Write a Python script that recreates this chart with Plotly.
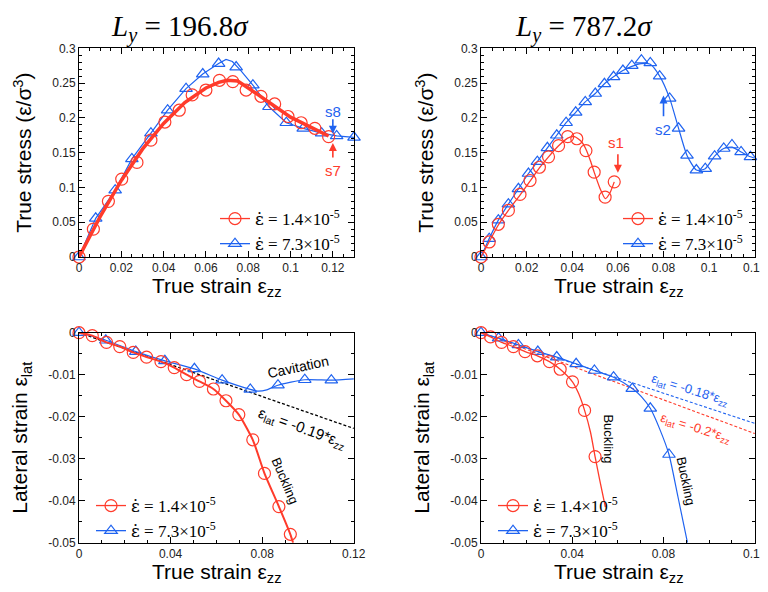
import plotly.graph_objects as go

# ---------------- data ----------------
# Top-left: stress-strain, Ly = 196.8 sigma
tl_red_mx = [0, 0.0068, 0.0139, 0.0202, 0.0274, 0.034, 0.0406, 0.0474, 0.0535, 0.060, 0.0664, 0.0727, 0.079, 0.086, 0.0925, 0.0988, 0.105, 0.1115, 0.118]
tl_red_my = [0, 0.040, 0.080, 0.112, 0.136, 0.168, 0.194, 0.211, 0.233, 0.240, 0.254, 0.252, 0.240, 0.231, 0.220, 0.202, 0.193, 0.185, 0.173]
tl_red_lx = [0, 0.005, 0.01, 0.02, 0.03, 0.04, 0.05, 0.06, 0.066, 0.07, 0.075, 0.08, 0.09, 0.10, 0.11, 0.118]
tl_red_ly = [0, 0.030, 0.058, 0.110, 0.155, 0.192, 0.222, 0.243, 0.251, 0.254, 0.253, 0.243, 0.222, 0.201, 0.186, 0.174]
tl_blue_mx = [0, 0.0079, 0.0171, 0.025, 0.034, 0.0419, 0.0506, 0.0585, 0.066, 0.0743, 0.0822, 0.0898, 0.098, 0.106, 0.1147, 0.1218, 0.13]
tl_blue_my = [0, 0.0556, 0.096, 0.141, 0.178, 0.211, 0.242, 0.263, 0.278, 0.273, 0.247, 0.216, 0.193, 0.185, 0.178, 0.174, 0.172]
tl_blue_lx = [0, 0.0079, 0.0171, 0.025, 0.034, 0.0419, 0.0506, 0.0585, 0.066, 0.0695, 0.0725, 0.0765, 0.0822, 0.0898, 0.098, 0.106, 0.1147, 0.1218, 0.13]
tl_blue_ly = [0, 0.0556, 0.096, 0.141, 0.178, 0.211, 0.242, 0.263, 0.278, 0.284, 0.281, 0.268, 0.247, 0.216, 0.193, 0.185, 0.178, 0.174, 0.172]

# Top-right: stress-strain, Ly = 787.2 sigma
tr_red_mx = [0, 0.0036, 0.0076, 0.012, 0.0171, 0.0215, 0.0256, 0.0296, 0.034, 0.038, 0.042, 0.046, 0.0496, 0.0544, 0.0584]
tr_red_my = [0, 0.0216, 0.047, 0.067, 0.090, 0.110, 0.129, 0.144, 0.160, 0.173, 0.170, 0.153, 0.122, 0.086, 0.108]
tr_red_lx = [0, 0.0036, 0.0076, 0.012, 0.0171, 0.0215, 0.0256, 0.0296, 0.034, 0.038, 0.041, 0.044, 0.046, 0.048, 0.0496, 0.052, 0.0545, 0.0565, 0.0584]
tr_red_ly = [0, 0.022, 0.046, 0.067, 0.089, 0.109, 0.128, 0.144, 0.160, 0.171, 0.173, 0.166, 0.155, 0.138, 0.122, 0.100, 0.084, 0.092, 0.108]
tr_blue_mx = [0, 0.0036, 0.0076, 0.012, 0.0164, 0.0208, 0.0247, 0.0291, 0.0332, 0.0373, 0.0415, 0.0457, 0.0501, 0.0541, 0.0581, 0.0622, 0.0661, 0.0703, 0.0742, 0.0783, 0.0827, 0.0866, 0.0903, 0.0944, 0.0983, 0.1024, 0.1064, 0.110, 0.114, 0.1181]
tr_blue_my = [0, 0.0264, 0.053, 0.076, 0.098, 0.120, 0.137, 0.157, 0.175, 0.193, 0.208, 0.223, 0.235, 0.249, 0.259, 0.268, 0.275, 0.283, 0.279, 0.260, 0.228, 0.185, 0.146, 0.125, 0.127, 0.145, 0.156, 0.161, 0.151, 0.144]
tr_blue_lx = tr_blue_mx + [0.12]
tr_blue_ly = [0, 0.0264, 0.053, 0.076, 0.098, 0.120, 0.137, 0.157, 0.175, 0.193, 0.208, 0.223, 0.235, 0.249, 0.259, 0.268, 0.274, 0.278, 0.277, 0.260, 0.228, 0.185, 0.146, 0.125, 0.127, 0.145, 0.156, 0.158, 0.151, 0.144, 0.142]

# Bottom-left: lateral strain, Ly = 196.8 sigma
bl_red_mx = [0, 0.0058, 0.012, 0.0178, 0.0237, 0.0295, 0.0358, 0.0416, 0.047, 0.0526, 0.0587, 0.0642, 0.0698, 0.0759, 0.081, 0.0873, 0.0923]
bl_red_my = [0, -0.0007, -0.0023, -0.0033, -0.0047, -0.0058, -0.0069, -0.0083, -0.0100, -0.0116, -0.0134, -0.0162, -0.0195, -0.0255, -0.0335, -0.0414, -0.0480]
bl_red_lx = bl_red_mx + [0.0935]
bl_red_ly = bl_red_my + [-0.0500]
bl_blue_mx = [0, 0.0117, 0.0248, 0.0375, 0.0504, 0.0625, 0.0748, 0.0869, 0.0986, 0.1102]
bl_blue_my = [0, -0.0018, -0.0045, -0.0067, -0.0086, -0.0113, -0.0135, -0.0125, -0.0112, -0.0113]
bl_blue_lx = [0, 0.0117, 0.0248, 0.0375, 0.0504, 0.0625, 0.0748, 0.078, 0.082, 0.0869, 0.0986, 0.1102, 0.12]
bl_blue_ly = [0, -0.0018, -0.0045, -0.0067, -0.0086, -0.0113, -0.0135, -0.0139, -0.0136, -0.0125, -0.0112, -0.0113, -0.0110]
bl_fit_x = [0, 0.12]
bl_fit_y = [0, -0.0228]

# Bottom-right: lateral strain, Ly = 787.2 sigma
br_red_mx = [0, 0.0042, 0.009, 0.0142, 0.0193, 0.0247, 0.030, 0.0347, 0.0401, 0.0454, 0.050]
br_red_my = [0, -0.0010, -0.0023, -0.0033, -0.0045, -0.0055, -0.0069, -0.0087, -0.0117, -0.0185, -0.0295]
br_red_lx = [0, 0.0042, 0.009, 0.0142, 0.0193, 0.0247, 0.030, 0.0347, 0.0401, 0.0428, 0.0454, 0.048, 0.050, 0.052, 0.0545]
br_red_ly = [0, -0.0010, -0.0023, -0.0033, -0.0045, -0.0055, -0.0069, -0.0087, -0.0117, -0.0145, -0.0185, -0.0237, -0.0295, -0.0350, -0.0415]
br_blue_mx = [0, 0.0077, 0.0164, 0.0249, 0.0332, 0.0417, 0.0497, 0.0581, 0.0663, 0.0742, 0.0824]
br_blue_my = [0, -0.0013, -0.0029, -0.0045, -0.0058, -0.0074, -0.0090, -0.0106, -0.0133, -0.0180, -0.0290]
br_blue_lx = [0, 0.0077, 0.0164, 0.0249, 0.0332, 0.0417, 0.0497, 0.0581, 0.0663, 0.0703, 0.0742, 0.0783, 0.0824, 0.0863, 0.0905]
br_blue_ly = [0, -0.0013, -0.0029, -0.0045, -0.0058, -0.0074, -0.0090, -0.0106, -0.0133, -0.0152, -0.0180, -0.0229, -0.0290, -0.0390, -0.0500]
br_fit_red_x = [0, 0.12]
br_fit_red_y = [0, -0.0240]
br_fit_blue_x = [0, 0.12]
br_fit_blue_y = [0, -0.0216]

top_xticks_l = [0, 0.02, 0.04, 0.06, 0.08, 0.1, 0.12]
top_xticktext = ["0", "0.02", "0.04", "0.06", "0.08", "0.1", "0.12"]
bot_xticks = [0, 0.04, 0.08, 0.12]
bot_xticktext = ["0", "0.04", "0.08", "0.12"]
bot_yticks = [0, -0.01, -0.02, -0.03, -0.04, -0.05]
bot_yticktext = ["0", "-0.01", "-0.02", "-0.03", "-0.04", "-0.05"]

EDOT = "<span style=\"font-family:'DejaVu Serif'\">\u03b5\u0307</span>"
legend_names = [EDOT + " = 1.4\u00d710<sup>-5</sup>", EDOT + " = 7.3\u00d710<sup>-5</sup>"]
xtitle = "True strain \u03b5<sub>zz</sub>"
stress_title = "True stress (\u03b5/\u03c3<sup>3</sup>)"
lat_title = "Lateral strain \u03b5<sub>lat</sub>"

# ---------------- styles / layout ----------------
RED = "#ff3b2b"
BLUE = "#1f63f0"
SANS = "Liberation Sans, Arial, sans-serif"
SERIF = "Liberation Serif, Times New Roman, serif"
MSIZE = 11

# The page body has an 8px margin: the figure starts 8px in and runs to the window edge.
OFF = 8
FW, FH = 768 - OFF, 592 - OFF


def px(x):  # screen x -> paper x
    return (x - OFF) / FW


def py(y):  # screen y -> paper y
    return 1 - (y - OFF) / FH


fig = go.Figure()

panels = [
    ("", "legend", (tl_red_lx, tl_red_ly), (tl_red_mx, tl_red_my), (tl_blue_lx, tl_blue_ly), (tl_blue_mx, tl_blue_my), 3.5, False),
    ("2", "legend2", (tr_red_lx, tr_red_ly), (tr_red_mx, tr_red_my), (tr_blue_lx, tr_blue_ly), (tr_blue_mx, tr_blue_my), 1.3, True),
    ("3", "legend3", (bl_red_lx, bl_red_ly), (bl_red_mx, bl_red_my), (bl_blue_lx, bl_blue_ly), (bl_blue_mx, bl_blue_my), 2.0, True),
    ("4", "legend4", (br_red_lx, br_red_ly), (br_red_mx, br_red_my), (br_blue_lx, br_blue_ly), (br_blue_mx, br_blue_my), 1.3, True),
]

for suf, leg, rl, rm, bln, bm, rw, spl in panels:
    xa, ya = "x" + suf, "y" + suf
    shape = "spline" if spl else "linear"
    if suf == "3":
        fig.add_trace(go.Scatter(x=bl_fit_x, y=bl_fit_y, mode="lines", xaxis=xa, yaxis=ya,
                                 line=dict(color="black", width=1.3, dash="3px,2px"), showlegend=False))
    if suf == "4":
        fig.add_trace(go.Scatter(x=br_fit_blue_x, y=br_fit_blue_y, mode="lines", xaxis=xa, yaxis=ya,
                                 line=dict(color=BLUE, width=1.1, dash="3px,2px"), showlegend=False))
        fig.add_trace(go.Scatter(x=br_fit_red_x, y=br_fit_red_y, mode="lines", xaxis=xa, yaxis=ya,
                                 line=dict(color=RED, width=1.1, dash="3px,2px"), showlegend=False))
    fig.add_trace(go.Scatter(x=bln[0], y=bln[1], mode="lines", xaxis=xa, yaxis=ya,
                             line=dict(color=BLUE, width=1.2, shape=shape, smoothing=0.6), showlegend=False))
    fig.add_trace(go.Scatter(x=bm[0], y=bm[1], mode="markers", xaxis=xa, yaxis=ya, cliponaxis=False,
                             marker=dict(symbol="triangle-up-open", size=MSIZE, color=BLUE, line=dict(width=1.2)),
                             showlegend=False))
    fig.add_trace(go.Scatter(x=rl[0], y=rl[1], mode="lines", xaxis=xa, yaxis=ya,
                             line=dict(color=RED, width=rw, shape=shape, smoothing=0.6), showlegend=False))
    fig.add_trace(go.Scatter(x=rm[0], y=rm[1], mode="markers", xaxis=xa, yaxis=ya, cliponaxis=False,
                             marker=dict(symbol="circle-open", size=MSIZE + 1, color=RED, line=dict(width=1.2)),
                             showlegend=False))
    fig.add_trace(go.Scatter(x=[None], y=[None], mode="lines+markers", xaxis=xa, yaxis=ya, name=legend_names[0],
                             legend=leg, line=dict(color=RED, width=1.3),
                             marker=dict(symbol="circle-open", size=MSIZE + 1, color=RED, line=dict(width=1.2))))
    fig.add_trace(go.Scatter(x=[None], y=[None], mode="lines+markers", xaxis=xa, yaxis=ya, name=legend_names[1],
                             legend=leg, line=dict(color=BLUE, width=1.3),
                             marker=dict(symbol="triangle-up-open", size=MSIZE, color=BLUE, line=dict(width=1.2))))

X_LEFT = [px(79), px(354)]
X_RIGHT = [px(481), px(755)]
Y_TOP = [py(257), py(48.3)]
Y_BOT = [py(542.7), py(332.7)]

tickfont = dict(family=SANS, size=12, color="#222")
titlefont = dict(family=SANS, size=21, color="black")


def xax(domain, anchor, rng, tickvals, ticktext, minor_dtick):
    return dict(domain=domain, anchor=anchor, range=rng, tickvals=tickvals, ticktext=ticktext, automargin=False,
                ticklabeloverflow="allow",
                showgrid=False, zeroline=False, showline=True, linecolor="black", linewidth=1,
                mirror="ticks", ticks="inside", ticklen=6, tickcolor="black",
                minor=dict(ticks="inside", ticklen=3, dtick=minor_dtick, tick0=0, tickcolor="black"),
                tickfont=tickfont)


def yax(domain, anchor, rng, title, **kw):
    d = dict(domain=domain, anchor=anchor, range=rng, automargin=False,
             showgrid=False, zeroline=False, showline=True, linecolor="black", linewidth=1,
             mirror="ticks", ticks="inside", ticklen=6, tickcolor="black",
             tickfont=tickfont,
             title=dict(text=title, font=titlefont, standoff=14))
    d.update(kw)
    return d


XR_END = 0.1201

fig.update_layout(
    width=FW, height=FH,
    margin=dict(l=0, r=0, t=0, b=0, autoexpand=False),
    paper_bgcolor="white", plot_bgcolor="white",
    xaxis=xax(X_LEFT, "y", [0, 0.13], top_xticks_l, top_xticktext, 0.005),
    xaxis2=xax(X_RIGHT, "y2", [0, XR_END], top_xticks_l, top_xticktext, 0.005),
    xaxis3=xax(X_LEFT, "y3", [0, XR_END], bot_xticks, bot_xticktext, 0.01),
    xaxis4=xax(X_RIGHT, "y4", [0, XR_END], bot_xticks, bot_xticktext, 0.01),
    yaxis=yax(Y_TOP, "x", [0, 0.3], stress_title, dtick=0.05, tick0=0,
              minor=dict(ticks="inside", ticklen=3, dtick=0.01, tickcolor="black")),
    yaxis2=yax(Y_TOP, "x2", [0, 0.3], stress_title, dtick=0.05, tick0=0,
               minor=dict(ticks="inside", ticklen=3, dtick=0.01, tickcolor="black")),
    yaxis3=yax(Y_BOT, "x3", [-0.05, 0], lat_title, tickvals=bot_yticks, ticktext=bot_yticktext,
               minor=dict(ticks="inside", ticklen=3, dtick=0.005, tickcolor="black")),
    yaxis4=yax(Y_BOT, "x4", [-0.05, 0], lat_title, tickvals=bot_yticks, ticktext=bot_yticktext,
               minor=dict(ticks="inside", ticklen=3, dtick=0.005, tickcolor="black")),
)

legfont = dict(family=SERIF, size=17, color="black")
common_leg = dict(font=legfont, bgcolor="rgba(0,0,0,0)", tracegroupgap=0, itemwidth=30)
fig.update_layout(
    legend=dict(x=px(345), y=py(262), xanchor="right", yanchor="bottom", **common_leg),
    legend2=dict(x=px(748), y=py(262), xanchor="right", yanchor="bottom", **common_leg),
    legend3=dict(x=px(91), y=py(549), xanchor="left", yanchor="bottom", **common_leg),
    legend4=dict(x=px(493), y=py(549), xanchor="left", yanchor="bottom", **common_leg),
)

ann = []
for cx, txt in [(180, "<i>L</i><sub><i>y</i></sub> = 196.8<i>\u03c3</i>"), (584, "<i>L</i><sub><i>y</i></sub> = 787.2<i>\u03c3</i>")]:
    ann.append(dict(text=txt, x=px(cx), y=1.0, xref="paper", yref="paper",
                    xanchor="center", yanchor="top",
                    showarrow=False, font=dict(family=SERIF, size=29, color="black")))

# x-axis titles placed just below the tick labels
for dom, top in [(X_LEFT, 272), (X_RIGHT, 272), (X_LEFT, 558), (X_RIGHT, 558)]:
    ann.append(dict(text=xtitle, x=(dom[0] + dom[1]) / 2, y=py(top), xref="paper", yref="paper",
                    xanchor="center", yanchor="top", showarrow=False, font=titlefont))


def arrow(xr, yr, x, y_tail, y_head, color):
    return dict(x=x, y=y_head, ax=x, ay=y_tail, xref=xr, yref=yr, axref=xr, ayref=yr, text="",
                showarrow=True, arrowhead=2, arrowsize=1, arrowwidth=1.6, arrowcolor=color)


def label(xr, yr, x, y, text, color, size=15, angle=0):
    return dict(x=x, y=y, xref=xr, yref=yr, text=text, showarrow=False, textangle=angle,
                font=dict(family=SANS, size=size, color=color))


ann += [
    arrow("x", "y", 0.12, 0.200, 0.177, BLUE), label("x", "y", 0.12, 0.209, "s8", BLUE),
    arrow("x", "y", 0.12, 0.141, 0.164, RED), label("x", "y", 0.12, 0.124, "s7", RED),
    arrow("x2", "y2", 0.06, 0.150, 0.121, RED), label("x2", "y2", 0.059, 0.164, "s1", RED),
    arrow("x2", "y2", 0.08, 0.200, 0.232, BLUE), label("x2", "y2", 0.0797, 0.184, "s2", BLUE),
    label("x3", "y3", 0.0956, -0.0082, "Cavitation", "black", 14, -12),
    label("x3", "y3", 0.0975, -0.0228, "\u03b5<sub>lat</sub> = -0.19*\u03b5<sub>zz</sub>", "black", 15, 20),
    label("x3", "y3", 0.0898, -0.0353, "Buckling", "black", 13, 67),
    label("x4", "y4", 0.0918, -0.0137, "\u03b5<sub>lat</sub> = -0.18*\u03b5<sub>zz</sub>", BLUE, 13, 17),
    label("x4", "y4", 0.0940, -0.0229, "\u03b5<sub>lat</sub> = -0.2*\u03b5<sub>zz</sub>", RED, 13, 17),
    label("x4", "y4", 0.0559, -0.0253, "Buckling", "black", 13, 90),
    label("x4", "y4", 0.0896, -0.0353, "Buckling", "black", 13, 78),
]
fig.update_layout(annotations=ann)

fig.write_html("out.html")
